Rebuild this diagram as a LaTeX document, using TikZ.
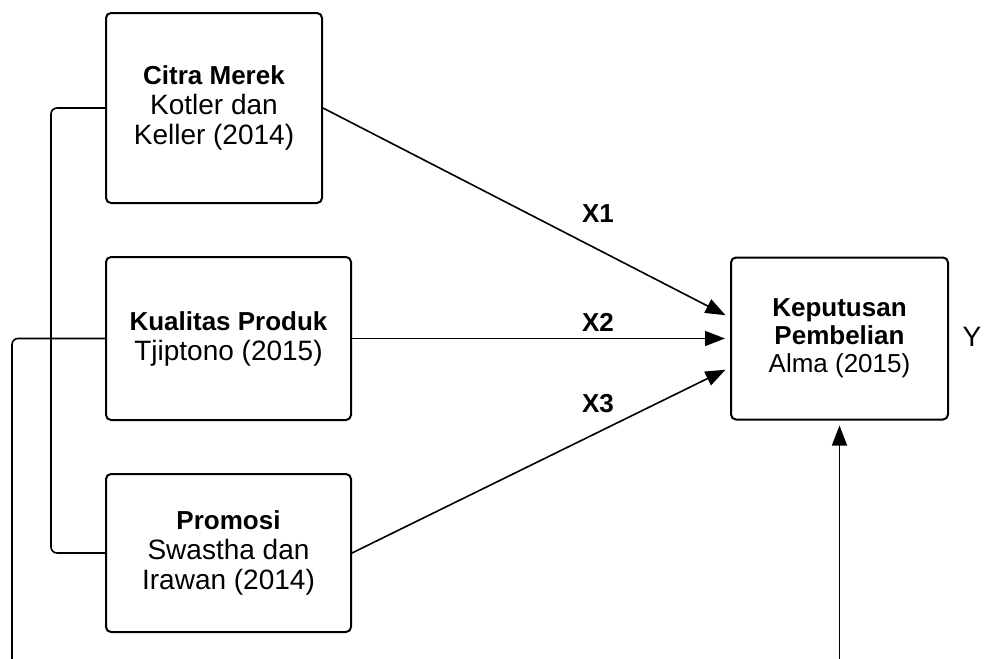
\documentclass[tikz,border=0pt]{standalone}
\usepackage{fontspec}
\setmainfont{Liberation Sans}
\usepackage{tikz}
\usetikzlibrary{positioning, arrows.meta}

\tikzset{
	kotak/.style={draw, line width=2pt, rounded corners=5pt, align=center, font=\fontsize{28}{30}\selectfont},
	panah/.style={line width=1.6pt, -{Triangle[length=20pt, width=15pt]}, shorten >=5pt},
	garis/.style={line width=1.6pt, rounded corners=6pt},
	lbl/.style={font=\fontsize{26}{30}\selectfont\bfseries}
}
\newcommand{\judul}[1]{{\fontsize{26}{30}\selectfont\bfseries #1}\\}

\begin{document}
\begin{tikzpicture}[x=1pt, y=-1pt]
			
			\useasboundingbox (0,0) rectangle (986,659);
			
			% variabel bebas
			\node[kotak, minimum width=216pt, minimum height=190pt] (citra) at (214,108) {\judul{Citra Merek}Kotler dan\\Keller (2014)};
			\node[kotak, minimum width=245pt, minimum height=163pt] (kualitas) at (228.5,338.5) {\judul{Kualitas Produk}Tjiptono (2015)};
			\node[kotak, minimum width=245pt, minimum height=158pt] (promosi) at (228.5,553) {\judul{Promosi}Swastha dan\\Irawan (2014)};
			
			% variabel terikat
			\node[kotak, minimum width=217pt, minimum height=162pt, font=\fontsize{26}{28}\selectfont] (keputusan) at (839.5,338.5) {\judul{Keputusan}\judul{Pembelian}Alma (2015)};
			\node[font=\fontsize{28}{30}\selectfont] (y) at (972,337) {Y};
			
			\coordinate (kiribawah) at (12,659);
			\coordinate (kananbawah) at (839.5,659);
			
			\draw[panah] (citra.east) -- ([yshift=21pt]keputusan.west);
			\draw[panah] (kualitas.east) -- (keputusan.west);
			\draw[panah] (promosi.east) -- ([yshift=-29pt]keputusan.west);
			
			\node[lbl] (x1) at (598,214) {X1};
			\node[lbl] (x2) at (598,322) {X2};
			\node[lbl] (x3) at (598,404) {X3};
			
			\draw[garis] (citra.west) -- ++(-54,0) |- (promosi.west);
			\draw[garis] (kualitas.west) -| (kiribawah);
			\draw[panah] (kananbawah) -- (keputusan.south);
			\end{tikzpicture}
\end{document}
